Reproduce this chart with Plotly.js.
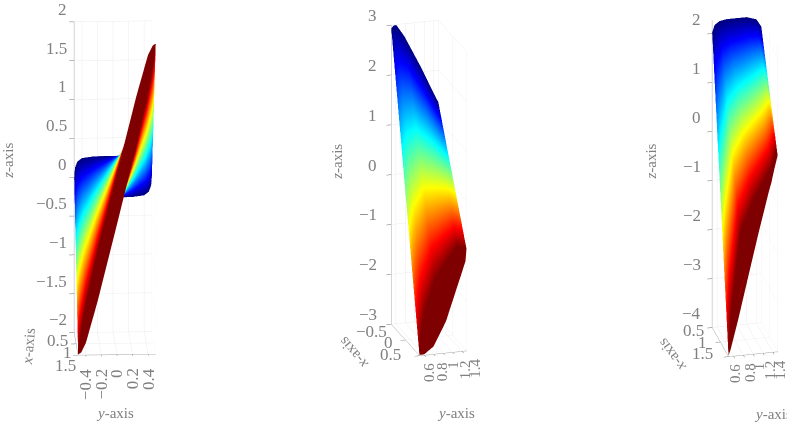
<!DOCTYPE html>
<html><head><meta charset="utf-8">
<script src="https://cdn.plot.ly/plotly-3.0.0.min.js"></script>
<style>html,body{margin:0;padding:0;width:787px;height:427px;overflow:hidden;background:#fff}#c{width:1000px;height:427px}</style>
</head><body><div id="c"></div>
<script>
var tintLevels = [0, 1, 1];

var leftXTicks = [0.5,1,1.5];
var leftXLabels = ['0.5','1','1.5'];
var leftYTicks = [-0.4,-0.2,0,0.2,0.4];
var leftYLabels = ['\u22120.4','\u22120.2','0','0.2','0.4'];
var leftZTicks = [-2,-1.5,-1,-0.5,0,0.5,1,1.5,2];
var leftZLabels = ['\u22122','\u22121.5','\u22121','\u22120.5','0','0.5','1','1.5','2'];
var leftFarY = [-0.5,-0.49,-0.46,-0.4,-0.25,0,0.25,0.4,0.46,0.49,0.5,0.49,0.46,0.4,0.25,0,-0.25,-0.4,-0.46,-0.49,-0.5];
var leftFarZ = [0,0.12,0.2,0.245,0.265,0.27,0.265,0.245,0.2,0.12,0,-0.12,-0.2,-0.245,-0.265,-0.27,-0.265,-0.245,-0.2,-0.12,0];
var leftNearZ = [-1.99,-1.9,-1.69,-1.35,-0.68,0.33,1.32,1.85,1.97,1.99,1.99,1.9,1.69,1.35,0.68,-0.33,-1.32,-1.85,-1.97,-1.99,-1.99];
var leftCapZ = [-1.99,-1.96,-1.84,-1.6,-1,0,1,1.6,1.84,1.96,1.99,1.96,1.84,1.6,1,0,-1,-1.6,-1.84,-1.96,-1.99];

var midXTicks = [-0.5,0,0.5];
var midXLabels = ['\u22120.5','0','0.5'];
var midYTicks = [0.6,0.8,1,1.2,1.4];
var midYLabels = ['0.6','0.8','1','1.2','1.4'];
var midZTicks = [-3,-2,-1,0,1,2,3];
var midZLabels = ['\u22123','\u22122','\u22121','0','1','2','3'];
var midFarY = [0.5,0.55,0.61,0.78,1.14,1.4,1.5,1.4,1.14,0.78,0.61,0.55,0.5];
var midFarZ = [2.93,2.99,2.99,2.75,2.08,1.55,1.36,1.35,1.75,2.35,2.7,2.8,2.93];
var midNearY = [0.5,0.53,0.6,0.83,1.1,1.3,1.5,1.48,1.4,1.065,0.8,0.6,0.5];
var midNearZ = [-2.99,-2.6,-2.2,-1.53,-1.15,-0.9,-0.95,-1.2,-1.43,-2.37,-2.85,-2.99,-2.99];
var midCapZ = [-2.99,-2.94,-2.8,-2.32,-1.77,-1.36,-0.95,-1,-1.15,-1.84,-2.38,-2.8,-2.99];

var rightXTicks = [0.5,1,1.5];
var rightXLabels = ['0.5','1','1.5'];
var rightYTicks = [0.6,0.8,1,1.2,1.4];
var rightYLabels = ['0.6','0.8','1','1.2','1.4'];
var rightZTicks = [-4,-3,-2,-1,0,1,2];
var rightZLabels = ['\u22124','\u22123','\u22122','\u22121','0','1','2'];
var rightFarY = [0.5,0.55,0.65,0.8,1.2,1.4,1.5,1.48,1.4,1,0.6,0.52,0.5];
var rightFarZ = [2.02,2.17,2.24,2.265,2.265,2.2,2.04,1.85,1.7,1.65,1.7,1.85,2.02];
var rightNearY = [0.5,0.55,0.74,1,1.37,1.47,1.5,1.27,1.105,0.9,0.7,0.55,0.5];
var rightNearZ = [-3.99,-3.16,-1.53,-0.89,-0.24,0.1,0,-0.92,-1.57,-2.42,-3.26,-3.84,-3.99];
var rightCapZ = [-3.99,-3.7,-2.7,-1.8,-0.55,-0.1,0,-0.85,-1.45,-2.15,-2.9,-3.7,-3.99];

var jet = [[0,'#00007f'],[0.125,'#0000ff'],[0.375,'#00ffff'],[0.625,'#ffff00'],[0.875,'#ff0000'],[1,'#7f0000']];

function tube(scene, xFar, xNear, farY, farZ, nearY, nearZ, capZ){
  var xm = [farY.map(function(){return xFar;}), nearY.map(function(){return xNear;}), nearY.map(function(){return xNear;})];
  var cm = tintLevels.map(function(v){return farY.map(function(){return v;});});
  return {type:'surface', scene:scene, x:xm, y:[farY,nearY,nearY], z:[farZ,nearZ,capZ], surfacecolor:cm,
    cmin:0, cmax:1, colorscale:jet, showscale:false, hoverinfo:'skip',
    lighting:{ambient:1,diffuse:0,specular:0,roughness:1,fresnel:0}};
}
var tickFont = {family:'Liberation Serif', size:17, color:'#808080'};
var titleFont = {family:'Liberation Serif', size:15, color:'#808080'};
function ax(range, tickvals){
  return {title:{text:''}, range:range, tickvals:tickvals, showticklabels:false,
    showgrid:true, gridcolor:'rgba(0,0,0,0.08)', gridwidth:1, showline:true, linecolor:'#aaaaaa', linewidth:1,
    ticks:'outside', ticklen:5, tickcolor:'#777777', zeroline:false, showbackground:false, showspikes:false};
}
function note(x,y,z,text,font,xa,ya,dx,dy,ang){
  return {x:x,y:y,z:z,text:text,font:font,showarrow:false,xanchor:xa,yanchor:ya,xshift:dx,yshift:dy,textangle:ang||0,borderpad:0};
}
function labels(p){
  var out = [];
  var yFont = {family:tickFont.family, size:p.yf, color:tickFont.color};
  p.zt.forEach(function(v,i){ out.push(note(p.xr[0],p.yr[0],v,p.zl[i],tickFont,'right','middle',p.zdx,p.zdy)); });
  p.xt.forEach(function(v,i){ out.push(note(v,p.yr[0],p.zr[0],p.xl[i],tickFont,'right','middle',p.xdx[i],p.xdy[i])); });
  p.yt.forEach(function(v,i){ out.push(note(p.xr[1],v,p.zr[0],p.yl[i],yFont,'center','top',p.ydx[i],p.ydy,-90)); });
  out.push(note(p.xr[0],p.yr[0],p.ztz,'<i>z</i>-axis',titleFont,'center','middle',p.ztd[0],p.ztd[1],-90));
  out.push(note(p.xmid,p.yr[0],p.zr[0],'<i>x</i>-axis',titleFont,'center','middle',p.xtd[0],p.xtd[1],p.xta));
  out.push(note(p.xr[1],p.ymid,p.zr[0],'<i>y</i>-axis',titleFont,'center','middle',p.ytd[0],p.ytd[1]));
  return out;
}
function scene(dom, p, aspect, eye, cz){
  return {domain:{x:dom, y:[0.12,1]}, aspectmode:'manual', aspectratio:{x:aspect[0],y:aspect[1],z:aspect[2]},
    camera:{eye:{x:eye[0],y:eye[1],z:eye[2]+cz}, up:{x:0,y:0,z:1}, center:{x:0,y:0,z:cz}, projection:{type:'orthographic'}},
    xaxis:ax(p.xr,p.xt), yaxis:ax(p.yr,p.yt), zaxis:ax(p.zr,p.zt), annotations:labels(p)};
}
var data = [
  tube('scene', 0.5, 1.49, leftFarY, leftFarZ, leftFarY, leftNearZ, leftCapZ),
  tube('scene2', -0.5, 0.49, midFarY, midFarZ, midNearY, midNearZ, midCapZ),
  tube('scene3', 0.5, 1.49, rightFarY, rightFarZ, rightNearY, rightNearZ, rightCapZ)
];
var leftCfg = {xr:[0.5,1.5],yr:[-0.5,0.5],zr:[-2,2],xt:leftXTicks,xl:leftXLabels,yt:leftYTicks,yl:leftYLabels,zt:leftZTicks,zl:leftZLabels,yf:17,
  zdx:-6.5,zdy:12.5,xdx:[-5.5,-3.5,-1.5],xdy:[-8,-8.5,-11],ydx:[0,0,0,0,0],ydy:-13,ztz:0,ztd:[-66.5,16],xmid:1,xtd:[-47.5,-2.5],xta:-85,ymid:0,ytd:[-1.6,-59]};
var midCfg = {xr:[-0.5,0.5],yr:[0.5,1.5],zr:[-3,3],xt:midXTicks,xl:midXLabels,yt:midYTicks,yl:midYLabels,zt:midZTicks,zl:midZLabels,yf:15,
  zdx:-13,zdy:9.5,xdx:[-3,-11.5,-18],xdy:[-7,-3,1],ydx:[4,8,9.5,12,13],ydy:-7,ztz:0,ztd:[-55,13],xmid:0,xtd:[-52.5,-13],xta:-130,ymid:1,ytd:[13,-60]};
var rightCfg = {xr:[0.5,1.5],yr:[0.5,1.5],zr:[-4,2.27],xt:rightXTicks,xl:rightXLabels,yt:rightYTicks,yl:rightYLabels,zt:rightZTicks,zl:rightZLabels,yf:15,
  zdx:-10.5,zdy:13.5,xdx:[-6.7,-12.4,-14.4],xdy:[-3,-0.7,3],ydx:[2,6,6,6,7],ydy:-7,ztz:0,ztd:[-61,-30],xmid:1,xtd:[-48.7,-13],xta:-126,ymid:1,ytd:[19.5,-59.5]};
var layout = {width:1000, height:427, margin:{l:0,r:0,t:0,b:0}, paper_bgcolor:'#fff', showlegend:false,
  scene: scene([0,0.23],leftCfg,[0.445,0.414,1.717],[5.15,-0.24,1.445],0),
  scene2: scene([0.314,0.544],midCfg,[0.518,0.262,1.691],[4.82,-1.47,1.81],0),
  scene3: scene([0.63,0.86],rightCfg,[0.38,0.269,1.80],[4.73,-1.12,2.24],-0.0115)
};
Plotly.newPlot('c', data, layout, {displayModeBar:false});
</script></body></html>
